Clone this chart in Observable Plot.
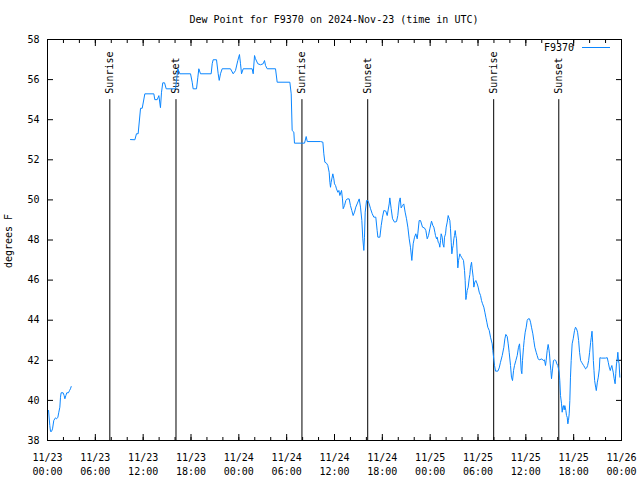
<!DOCTYPE html>
<html><head><meta charset="utf-8">
<script src="https://cdn.jsdelivr.net/npm/d3@7"></script>
<script src="https://cdn.jsdelivr.net/npm/@observablehq/plot@0.6"></script>
<style>body{margin:0;background:#fff} #chart svg{display:block}</style>
</head><body><div id="chart"></div>
<script>
const titleText = "Dew Point for F9370 on 2024-Nov-23 (time in UTC)";
const yLabel = "degrees F";
const seriesName = "F9370";
const startTime = "2024-11-23T00:00:00Z";
const endTime = "2024-11-26T00:00:00Z";
const yTicks = [38, 40, 42, 44, 46, 48, 50, 52, 54, 56, 58];

// hours since 2024-11-23 00:00 UTC (null value = data gap)
const hoursFromStart = [
  0.13,0.29,0.38,0.5,0.63,0.79,1.0,1.13,1.3,1.42,1.55,1.63,1.71,1.96,2.09,2.18,2.3,2.42,2.63,2.76,2.88,2.97,
  6.5,
  10.41,10.96,11.16,11.37,11.67,11.88,12.21,13.34,13.46,13.76,13.97,14.17,14.3,14.46,14.68,14.89,16.06,16.35,16.6,17.94,
  18.15,18.27,18.69,18.86,18.98,19.19,20.53,20.66,20.78,21.2,21.41,21.54,21.7,21.91,22.95,23.29,23.58,23.87,24.08,24.21,
  24.34,24.55,25.67,25.8,25.97,26.09,26.38,26.72,27.05,27.22,27.35,27.56,28.6,28.81,30.4,30.57,30.69,30.9,30.98,32.24,
  32.45,32.58,34.24,34.54,34.66,34.79,35.0,35.16,35.33,35.42,35.5,35.58,35.79,35.92,36.0,36.13,36.25,36.42,36.55,36.67,
  36.88,37.0,37.09,37.26,37.42,37.59,37.84,38.0,38.17,38.34,38.51,38.67,38.84,39.1,39.26,39.43,39.55,39.68,39.76,39.85,
  40.02,40.18,40.35,40.52,40.73,40.93,41.18,41.35,41.44,41.69,41.86,42.02,42.19,42.44,42.61,42.86,42.94,43.11,43.28,43.53,
  43.78,43.94,44.11,44.24,44.36,44.53,44.69,44.86,45.03,45.2,45.37,45.53,45.7,45.87,46.04,46.2,46.37,46.45,46.62,46.79,
  47.04,47.29,47.46,47.63,47.79,47.96,48.17,48.34,48.46,48.59,48.67,48.8,48.88,49.01,49.13,49.21,49.3,49.38,49.51,49.59,
  49.72,49.8,49.93,50.01,50.14,50.26,50.39,50.47,50.55,50.64,50.72,50.8,50.89,50.97,51.05,51.14,51.22,51.3,51.39,51.47,
  51.56,51.64,51.72,51.81,51.93,52.06,52.18,52.31,52.39,52.48,52.56,52.64,52.77,52.89,52.98,53.06,53.19,53.27,53.4,53.48,
  53.6,53.73,53.9,54.02,54.15,54.32,54.44,54.57,54.73,54.86,54.98,55.11,55.23,55.41,55.57,55.78,55.86,55.99,56.07,56.2,
  56.49,56.66,56.82,57.04,57.24,57.37,57.49,57.66,57.79,57.91,58.08,58.2,58.33,58.46,58.58,58.75,58.92,59.08,59.21,59.33,
  59.42,59.5,59.58,59.71,59.79,59.92,60.05,60.17,60.3,60.46,60.59,60.71,60.88,61.0,61.13,61.3,61.42,61.55,61.67,62.01,
  62.18,62.34,62.47,62.55,62.68,62.8,62.89,62.97,63.06,63.14,63.22,63.35,63.47,63.6,63.76,63.89,64.01,64.1,64.18,64.26,
  64.35,64.47,64.56,64.64,64.72,64.81,64.89,65.02,65.1,65.19,65.27,65.35,65.44,65.52,65.6,65.69,65.81,65.94,66.11,66.23,
  66.36,66.49,66.62,66.74,66.87,67.0,67.12,67.25,67.37,67.5,67.63,67.75,67.88,68.0,68.13,68.21,68.3,68.38,68.47,68.55,
  68.63,68.76,68.84,68.97,69.09,69.22,69.29,69.47,70.0,70.21,70.34,70.46,70.59,70.71,70.79,70.87,70.96,71.08,71.2,71.28,
  71.37,71.45,71.54,71.62,71.7,71.79
];
const dewPointF = [
  39.5,38.75,38.45,38.45,38.58,39.0,39.13,39.08,39.16,39.41,39.66,40.16,40.38,40.38,40.24,40.08,40.24,40.38,40.38,40.49,40.58,40.69,
  null,
  53.01,53.0,53.3,53.3,54.57,54.57,55.29,55.29,55.0,55.0,55.2,54.6,55.37,55.84,55.84,55.54,55.54,56.54,56.29,56.29,
  55.87,55.54,55.54,56.12,56.54,56.29,56.29,56.79,56.99,56.99,56.29,55.96,56.29,56.54,56.54,56.29,56.45,56.95,57.25,56.79,
  56.29,56.54,56.54,56.29,57.2,57.04,56.79,56.74,56.79,56.95,56.7,56.54,56.54,55.87,55.87,55.29,53.46,53.38,52.83,52.83,
  53.16,52.91,52.91,52.88,52.3,51.88,51.83,51.72,51.38,50.88,50.63,50.88,51.3,51.05,50.8,50.72,50.55,50.38,50.47,50.22,
  50.47,50.05,49.56,49.72,49.97,50.05,50.05,49.72,49.47,49.22,49.39,49.64,49.8,50.05,49.64,48.97,48.06,47.48,48.14,49.39,
  49.97,49.97,49.8,49.56,49.31,49.14,49.14,48.47,48.14,48.14,48.72,49.14,49.47,49.44,49.22,49.8,50.1,49.56,49.06,48.89,
  48.92,49.22,49.89,50.1,49.6,49.72,49.8,49.39,49.06,48.64,48.06,47.64,46.98,47.81,48.14,48.31,48.06,48.31,48.97,48.97,
  48.64,48.6,48.47,48.06,48.22,48.56,48.94,48.72,48.64,48.39,48.22,48.06,48.14,47.89,47.81,47.64,47.97,48.31,48.14,47.81,
  47.64,48.14,48.31,48.64,48.89,49.22,49.06,48.97,48.56,47.89,47.31,47.56,47.73,48.06,48.22,48.47,48.22,48.06,47.31,46.61,
  46.98,47.14,47.31,47.23,47.14,47.06,46.98,46.48,45.98,45.03,45.23,45.48,45.65,46.06,46.28,46.64,46.89,46.56,46.14,45.65,
  45.9,45.98,45.81,45.65,45.4,45.23,44.98,44.82,44.65,44.4,44.15,43.9,43.65,43.49,43.15,42.82,42.49,42.02,41.74,41.46,
  41.46,41.62,41.9,42.24,42.65,43.07,43.29,43.19,42.82,42.4,41.74,41.16,40.99,41.49,41.74,41.99,42.24,42.65,42.82,42.16,
  41.49,41.33,41.99,42.65,42.99,43.4,43.65,43.99,44.07,44.07,43.9,43.65,43.32,42.99,42.65,42.4,42.24,42.07,42.02,42.07,
  41.99,42.02,41.74,41.99,42.49,42.79,42.57,42.32,41.82,41.49,41.08,41.57,41.99,42.02,41.99,41.82,41.74,41.57,41.41,40.99,
  40.24,39.86,39.41,39.66,39.74,39.53,39.74,39.5,39.25,39.16,38.83,39.0,39.33,39.99,41.16,41.99,42.82,43.07,43.49,43.65,
  43.57,43.4,42.99,42.4,41.99,41.9,41.82,41.74,41.66,41.57,41.62,41.74,41.99,42.4,42.9,43.15,43.45,42.9,41.99,41.49,
  40.99,40.66,40.49,40.91,41.16,41.57,42.13,42.11,42.11,42.13,41.9,41.66,41.49,41.66,41.74,41.57,41.41,41.08,40.83,41.33,
  41.82,41.99,42.4,41.99,41.82,41.16
];

const sunEventTimes = ["2024-11-23T07:49:00Z","2024-11-23T16:07:00Z","2024-11-24T07:55:00Z",
                       "2024-11-24T16:10:00Z","2024-11-25T07:58:00Z","2024-11-25T16:08:00Z"];
const sunEventLabels = ["Sunrise","Sunset","Sunrise","Sunset","Sunrise","Sunset"];
const sunLabelLevel = 55;

const t0 = new Date(startTime);
const t1 = new Date(endTime);
const data = hoursFromStart.map((h, i) => ({
  time: new Date(+t0 + h * 3600e3),
  dew: dewPointF[i] == null ? NaN : dewPointF[i]
}));
const sun = sunEventTimes.map((t, i) => ({time: new Date(t), label: sunEventLabels[i]}));
const majorTicks = d3.utcHour.every(6).range(t0, d3.utcMinute.offset(t1, 1));
const minorTicks = d3.utcHour.every(2).range(t0, d3.utcMinute.offset(t1, 1));

const font = "'DejaVu Sans Mono', 'Liberation Mono', monospace";
const lineColor = "#0a86ff";

const chart = Plot.plot({
  width: 640, height: 480,
  marginLeft: 47, marginRight: 19, marginTop: 39, marginBottom: 40,
  style: {fontFamily: font, fontSize: "10px", background: "white", color: "black", overflow: "visible"},
  x: {type: "utc", domain: [t0, t1]},
  y: {domain: [38, 58]},
  marks: [
    Plot.frame({stroke: "black"}),
    Plot.axisX({ticks: minorTicks, tickSize: -3, fill: "none", label: null}),
    Plot.axisX({anchor: "top", ticks: minorTicks, tickSize: -3, fill: "none", label: null}),
    Plot.axisX({ticks: majorTicks, tickSize: -6, fill: "none", label: null}),
    Plot.axisX({anchor: "top", ticks: majorTicks, tickSize: -6, fill: "none", label: null}),
    Plot.axisX({ticks: majorTicks, tickSize: 0, tickPadding: 10, lineHeight: 1.45,
                tickFormat: d3.utcFormat("%m/%d\n%H:%M"), label: null}),
    Plot.axisY({ticks: yTicks, tickSize: -6, fill: "none", label: null}),
    Plot.axisY({anchor: "right", ticks: yTicks, tickSize: -6, fill: "none", label: null}),
    Plot.axisY({ticks: yTicks, tickSize: 0, tickPadding: 8, tickFormat: d3.format("d"), label: null}),
    Plot.ruleX(sun, {x: "time", y1: 38, y2: sunLabelLevel, stroke: "black", strokeWidth: 1}),
    Plot.text(sun, {x: "time", y: sunLabelLevel, text: "label", rotate: -90, textAnchor: "start",
                    lineAnchor: "middle", dy: -6, fill: "black"}),
    Plot.line(data, {x: "time", y: "dew", stroke: lineColor, strokeWidth: 1})
  ]
});

const svg = d3.select(chart);
svg.append("text").attr("x", 334).attr("y", 23).attr("text-anchor", "middle")
  .attr("font-family", font).attr("font-size", 10).attr("fill", "black").text(titleText);
svg.append("text").attr("transform", "translate(12,241) rotate(-90)").attr("text-anchor", "middle")
  .attr("font-family", font).attr("font-size", 10).attr("fill", "black").text(yLabel);
svg.append("text").attr("x", 574).attr("y", 51).attr("text-anchor", "end")
  .attr("font-family", font).attr("font-size", 10).attr("fill", "black").text(seriesName);
svg.append("line").attr("x1", 582).attr("x2", 610).attr("y1", 47.5).attr("y2", 47.5)
  .attr("stroke", lineColor).attr("stroke-width", 1);

document.getElementById("chart").appendChild(chart);
</script>
</body></html>
